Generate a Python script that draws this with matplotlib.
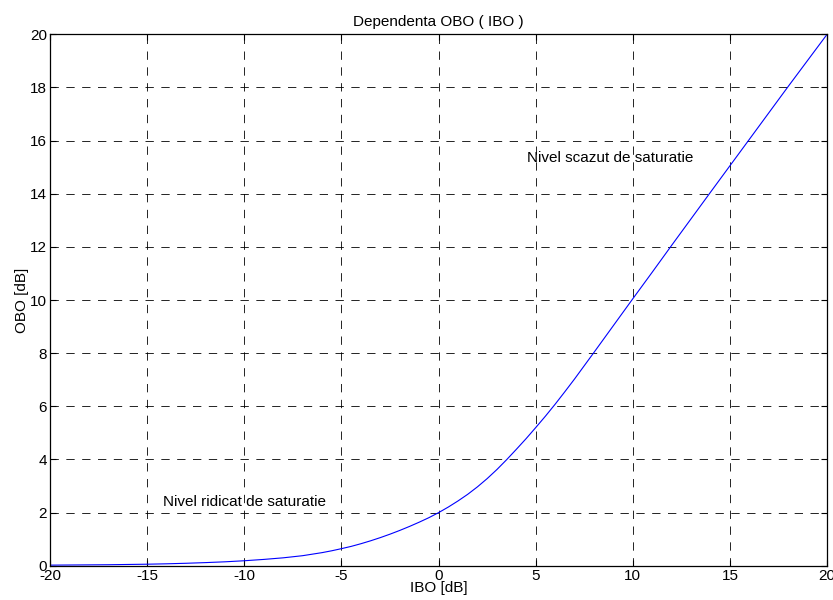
import matplotlib
matplotlib.use("Agg")
import matplotlib.pyplot as plt

# values
ibo = [-20, -19, -18, -17, -16, -15, -14, -13, -12, -11, -10, -9, -8, -7, -6, -5.5, -5,
       -4.5, -4, -3.5, -3, -2.5, -2, -1.5, -1, -0.5, 0, 0.5, 1, 1.5, 2, 2.5, 3, 3.5,
       4, 4.5, 5, 5.5, 6, 6.5, 7, 7.5, 8, 9, 10, 11, 12, 14, 16, 18, 20]
obo = [0.025, 0.03, 0.035, 0.04, 0.05, 0.06, 0.075, 0.095, 0.12, 0.15, 0.19, 0.24, 0.30,
       0.38, 0.495, 0.565, 0.645, 0.73, 0.83, 0.94, 1.06, 1.19, 1.33, 1.48, 1.64, 1.81,
       2.00, 2.21, 2.44, 2.69, 2.97, 3.28, 3.62, 3.99, 4.38, 4.78, 5.20, 5.63, 6.08,
       6.55, 7.03, 7.53, 8.03, 9.04, 10.05, 11.05, 12.06, 14.06, 16.05, 18.04, 20.0]
xticks = [-20, -15, -10, -5, 0, 5, 10, 15, 20]
yticks = [0, 2, 4, 6, 8, 10, 12, 14, 16, 18, 20]

plt.rcParams["font.family"] = ["Liberation Sans", "DejaVu Sans"]
plt.rcParams["font.size"] = 11
plt.rcParams["axes.unicode_minus"] = False

fig = plt.figure(figsize=(8.33, 6), dpi=100)
ax = fig.add_axes([0.060, 0.057, 0.933, 0.886])

ax.plot(ibo, obo, color="blue", lw=0.8)

ax.set_xlim(-20, 20)
ax.set_ylim(0, 20)
ax.set_xticks(xticks)
ax.set_yticks(yticks)
ax.tick_params(direction="in", length=4, width=0.8, top=True, right=True, pad=2,
               labelsize=11)

for x in xticks[1:-1]:
    g = ax.axvline(x, color="k", lw=0.6, zorder=0)
    g.set_dashes([10, 9])
for y in yticks[1:-1]:
    g = ax.axhline(y, color="k", lw=0.6, zorder=0)
    g.set_dashes([10, 9])

for s in ax.spines.values():
    s.set_linewidth(0.9)

ax.set_title("Dependenta OBO ( IBO )", fontsize=11, pad=6)
ax.set_xlabel("IBO [dB]", labelpad=-1)
ax.set_ylabel("OBO [dB]", labelpad=1)

ax.text(-14.2, 2.4, "Nivel ridicat de saturatie", ha="left", va="center")
ax.text(4.55, 15.35, "Nivel scazut de saturatie", ha="left", va="center")

fig.savefig("out.png", dpi=100)
